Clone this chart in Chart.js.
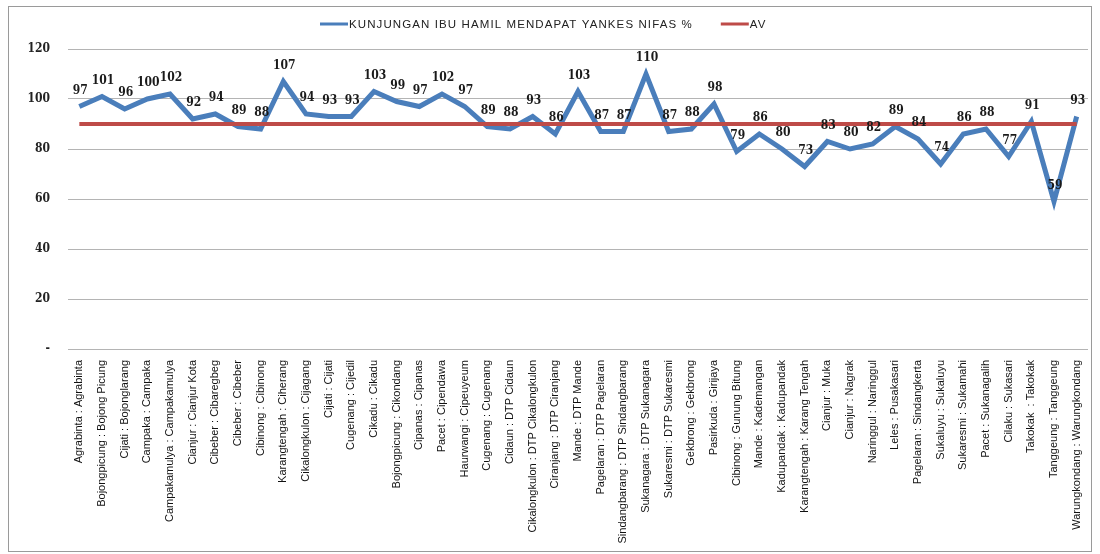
<!DOCTYPE html>
<html>
<head>
<meta charset="utf-8">
<script src="https://cdn.jsdelivr.net/npm/chart.js@4.4.1/dist/chart.umd.min.js"></script>
<style>
    html, body { margin: 0; padding: 0; background: #fff; }
    #wrap { position: relative; width: 1100px; height: 554px; }
    #frame { position: absolute; left: 8px; top: 6px; width: 1084px; height: 546px; border: 1px solid #9a9a9a; box-sizing: border-box; pointer-events: none; }
</style>
</head>
<body>
<div id="wrap">
    <canvas id="nifas-chart" width="1100" height="554"></canvas>
    <div id="frame"></div>
</div>
<script>
const puskesmas = [
    "Agrabinta : Agrabinta", "Bojongpicung : Bojong Picung", "Cijati : Bojonglarang", "Campaka : Campaka",
    "Campakamulya : Campakamulya", "Cianjur : Cianjur Kota", "Cibeber : Cibaregbeg", "Cibeber : Cibeber",
    "Cibinong : Cibinong", "Karangtengah : Ciherang", "Cikalongkulon : Cijagang", "Cijati : Cijati",
    "Cugenang : Cijedil", "Cikadu : Cikadu", "Bojongpicung : Cikondang", "Cipanas : Cipanas",
    "Pacet : Cipendawa", "Haurwangi : Cipeuyeum", "Cugenang : Cugenang", "Cidaun : DTP Cidaun",
    "Cikalongkulon : DTP Cikalongkulon", "Ciranjang : DTP Ciranjang", "Mande : DTP Mande",
    "Pagelaran : DTP Pagelaran", "Sindangbarang : DTP Sindangbarang", "Sukanagara : DTP Sukanagara",
    "Sukaresmi : DTP Sukaresmi", "Gekbrong : Gekbrong", "Pasirkuda : Girijaya", "Cibinong : Gunung Bitung",
    "Mande : Kademangan", "Kadupandak : Kadupandak", "Karangtengah : Karang Tengah", "Cianjur : Muka",
    "Cianjur : Nagrak", "Naringgul : Naringgul", "Leles : Pusakasari", "Pagelaran : Sindangkerta",
    "Sukaluyu : Sukaluyu", "Sukaresmi : Sukamahi", "Pacet : Sukanagalih", "Cilaku : Sukasari",
    "Takokak  : Takokak", "Tanggeung : Tanggeung", "Warungkondang : Warungkondang"
];

const kunjunganNifas = [
    97, 101, 96, 100, 102, 92, 94, 89, 88, 107, 94, 93, 93, 103, 99, 97, 102, 97, 89, 88, 93, 86, 103,
    87, 87, 110, 87, 88, 98, 79, 86, 80, 73, 83, 80, 82, 89, 84, 74, 86, 88, 77, 91, 59, 93
];

const rataRata = 90;
const avValues = puskesmas.map(() => rataRata);

const yTicks = [0, 20, 40, 60, 80, 100, 120];

const serifBold = "'DejaVu Serif Condensed', 'DejaVu Serif', 'Liberation Serif', serif";

// Writes the value above each point of the first dataset
const pointLabels = {
    id: "pointLabels",
    afterDatasetsDraw(chart) {
        const ctx = chart.ctx;
        const meta = chart.getDatasetMeta(0);
        ctx.save();
        ctx.font = "bold 12px " + serifBold;
        ctx.fillStyle = "#1a1a1a";
        ctx.textAlign = "center";
        ctx.textBaseline = "middle";
        meta.data.forEach((pt, i) => {
            ctx.fillText(String(kunjunganNifas[i]), pt.x + 1, pt.y - 16);
        });
        ctx.restore();
    }
};

// Legend row above the plot: a short line sample followed by the series name
const lineLegend = {
    id: "lineLegend",
    afterDraw(chart) {
        const ctx = chart.ctx;
        const y = 24;
        let x = 320;
        ctx.save();
        ctx.font = "11.5px 'Liberation Sans', Arial, sans-serif";
        ctx.letterSpacing = "1.1px";
        ctx.textBaseline = "middle";
        chart.data.datasets.forEach(ds => {
            ctx.fillStyle = ds.borderColor;
            ctx.fillRect(x, y - 1.5, 28, 3);
            x += 29;
            ctx.fillStyle = "#222";
            ctx.fillText(ds.label, x, y + 0.5);
            x += ctx.measureText(ds.label).width + 28;
        });
        ctx.restore();
    }
};

document.addEventListener("DOMContentLoaded", () => {
    const ctx = document.getElementById("nifas-chart").getContext("2d");
    new Chart(ctx, {
        type: "line",
        data: {
            labels: puskesmas,
            datasets: [
                {
                    label: "KUNJUNGAN IBU HAMIL MENDAPAT YANKES NIFAS %",
                    data: kunjunganNifas,
                    borderColor: "#4a7ebb",
                    backgroundColor: "#4a7ebb",
                    borderWidth: 5,
                    pointRadius: 0,
                    tension: 0,
                    fill: false,
                    order: 1,
                },
                {
                    label: "AV",
                    data: avValues,
                    borderColor: "#be4b48",
                    backgroundColor: "#be4b48",
                    borderWidth: 4,
                    pointRadius: 0,
                    tension: 0,
                    fill: false,
                    order: 0,
                },
            ],
        },
        options: {
            responsive: false,
            animation: false,
            layout: { padding: { left: 22, right: 12, top: 49, bottom: 6 } },
            plugins: {
                legend: { display: false },
                tooltip: { enabled: false },
            },
            scales: {
                x: {
                    offset: true,
                    grid: { display: false },
                    border: { display: false },
                    ticks: {
                        autoSkip: false,
                        maxRotation: 90,
                        minRotation: 90,
                        color: "#111",
                        padding: 3,
                        font: { family: "'Liberation Sans Narrow', 'Liberation Sans', Arial, sans-serif", size: 11 },
                    },
                    afterFit(scale) { scale.height = 199; },
                },
                y: {
                    min: 0,
                    max: 120,
                    afterBuildTicks(scale) { scale.ticks = yTicks.map(v => ({ value: v })); },
                    grid: { color: "#b4b4b4", lineWidth: 1, drawTicks: false },
                    border: { display: false },
                    ticks: {
                        padding: 18,
                        color: "#222",
                        font: { family: serifBold, size: 12, weight: "bold" },
                        callback: v => (v === 0 ? "-" : v),
                    },
                    afterFit(scale) { scale.width = 46; },
                },
            },
        },
        plugins: [pointLabels, lineLegend],
    });
});
</script>
</body>
</html>
